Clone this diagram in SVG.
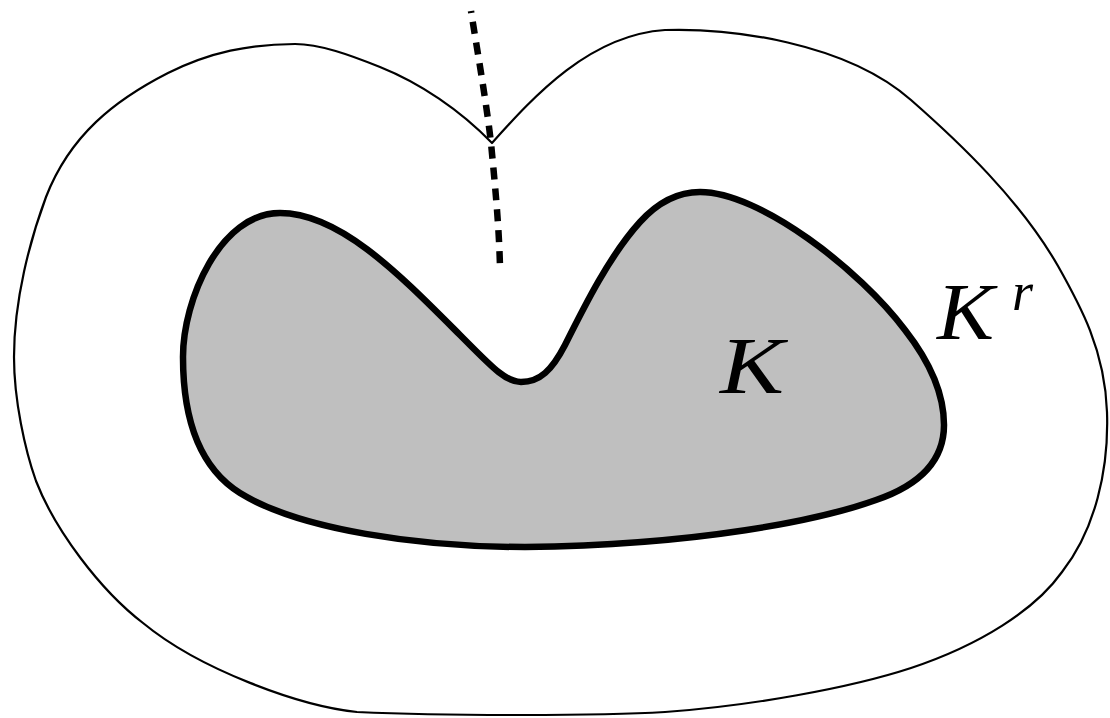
<svg xmlns="http://www.w3.org/2000/svg" width="1110" height="718" viewBox="0 0 1110 718">
<style>
.outer{fill:#fff;stroke:#000;stroke-width:2.2;stroke-linejoin:round}
.inner{fill:#bfbfbf;stroke:#000;stroke-width:6.5;stroke-linejoin:round}
.dash{fill:none;stroke:#000;stroke-width:6.5;stroke-dasharray:12 9;stroke-dashoffset:10}
.lbl{font-family:"Liberation Serif",serif;font-style:italic;fill:#000}
</style>
<rect width="1110" height="718" fill="#fff"/>
<g id="Kr">
<path class="outer" d="M492,143 C535,95 590,35 665,30 C730,28 845,42 911,100 C960,143 1020,200 1058,266 C1080,305 1105,350 1107,412 C1109,470 1095,530 1062,572 C1035,610 980,645 911,668 C850,688 750,706 665,712 C600,716 450,716 357,712 C300,706 200,670 143,623 C100,590 55,530 36,481 C25,450 14,400 14,357 C14,300 30,240 46,197 C70,135 115,100 168,73 C210,52 250,44 295,44 C320,44 350,55 380,67 C420,83 460,110 492,143 Z"/>
<text class="lbl" x="937" y="339" font-size="80" textLength="57" lengthAdjust="spacingAndGlyphs">K</text>
<text class="lbl" x="1012" y="310" font-size="54">r</text>
</g>
<g id="K">
<path class="inner" d="M280,213 C340,213 400,275 460,335 C490,365 505,382 521,382 C540,382 552,370 565,345 C585,305 610,255 640,222 C660,200 680,192 700,192 C760,192 860,270 905,330 C930,362 944,395 944,425 C944,460 920,485 876,500 C820,520 700,545 525,547 C420,547 300,530 240,493 C200,468 183,420 183,357 C183,300 220,213 280,213 Z"/>
<text class="lbl" x="720" y="393" font-size="80" textLength="64" lengthAdjust="spacingAndGlyphs">K</text>
</g>
<g id="connectors">
<path class="dash" d="M471,11 C478,55 486,100 491,143 C495,185 499,225 500,267"/>
</g>
</svg>
